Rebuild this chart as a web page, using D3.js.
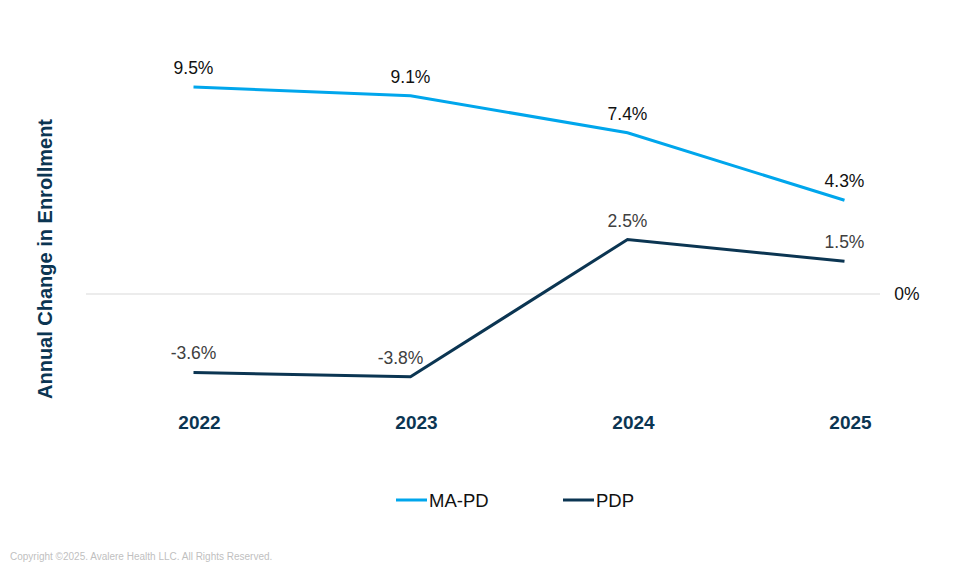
<!DOCTYPE html>
<html>
<head>
<meta charset="utf-8">
<script src="https://cdn.jsdelivr.net/npm/d3@7"></script>
<style>
  body { margin: 0; background: #fff; }
  text { font-family: Arial, "Liberation Sans", sans-serif; }
</style>
</head>
<body>
<div id="chart"></div>
<script>
var years = ['2022', '2023', '2024', '2025']
var maPd = [9.5, 9.1, 7.4, 4.3]
var pdp = [-3.6, -3.8, 2.5, 1.5]
var seriesNames = ['MA-PD', 'PDP']
var seriesColors = ['#00a6ec', '#0b3552']
var labelColors = ['#111111', '#404040']

var width = 960, height = 576

var svg = d3.select('#chart')
  .append('svg')
  .attr('width', width)
  .attr('height', height)

// x: band centres, y: percent change
var x = d3.scaleBand()
  .domain(years)
  .range([85, 953])

var y = d3.scaleLinear()
  .domain([0, 9.5])
  .range([294, 87])

// zero line
svg.append('line')
  .attr('x1', 86)
  .attr('x2', 880)
  .attr('y1', y(0))
  .attr('y2', y(0))
  .attr('stroke', '#d9d9d9')
  .attr('stroke-width', 1)

svg.append('text')
  .attr('x', 907)
  .attr('y', y(0))
  .attr('dy', '0.35em')
  .attr('text-anchor', 'middle')
  .style('font-size', '17.5px')
  .attr('fill', '#111')
  .text('0%')

// year labels
var xAxis = svg.append('g')
  .attr('transform', 'translate(6,' + 412 + ')')
  .call(d3.axisBottom(x).tickSize(0).tickPadding(0))
xAxis.select('.domain').remove()
xAxis.selectAll('text')
  .attr('dy', '0.9em')
  .style('font-family', 'Arial, "Liberation Sans", sans-serif')
  .style('font-size', '19px')
  .style('font-weight', 'bold')
  .attr('fill', '#0b3552')

var line = d3.line()
  .x(function(d, i) {return x(years[i]) + x.bandwidth() / 2})
  .y(function(d) {return y(d)})

var series = [maPd, pdp]

series.forEach(function(vals, s) {
  svg.append('path')
    .datum(vals)
    .attr('d', line)
    .attr('fill', 'none')
    .attr('stroke', seriesColors[s])
    .attr('stroke-width', 3)

  svg.selectAll('.lbl' + s)
    .data(vals)
    .enter()
    .append('text')
    .attr('x', function(d, i) {return x(years[i]) + x.bandwidth() / 2})
    // the 2023 PDP label sits left of its point so it clears the rising line
    .attr('dx', function(d, i) {return (s === 1 && i === 1) ? -10 : 0})
    .attr('y', function(d) {return y(d) - 13})
    .attr('text-anchor', 'middle')
    .style('font-size', '17.5px')
    .attr('fill', labelColors[s])
    .text(function(d) {return d.toFixed(1) + '%'})
})

// y title
svg.append('text')
  .attr('transform', 'translate(52,259) rotate(-90)')
  .attr('text-anchor', 'middle')
  .style('font-size', '20px')
  .style('font-weight', 'bold')
  .attr('fill', '#0b3552')
  .text('Annual Change in Enrollment')

// legend
var legendX = [396, 563]
seriesNames.forEach(function(name, s) {
  svg.append('line')
    .attr('x1', legendX[s])
    .attr('x2', legendX[s] + 31)
    .attr('y1', 500)
    .attr('y2', 500)
    .attr('stroke', seriesColors[s])
    .attr('stroke-width', 3)
  svg.append('text')
    .attr('x', legendX[s] + 33)
    .attr('y', 500)
    .attr('dy', '0.36em')
    .style('font-size', '18.5px')
    .attr('fill', '#111')
    .text(name)
})

svg.append('text')
  .attr('x', 10)
  .attr('y', 560)
  .style('font-size', '10px')
  .attr('fill', '#bfbfbf')
  .text('Copyright ©2025. Avalere Health LLC. All Rights Reserved.')
</script>
</body>
</html>
